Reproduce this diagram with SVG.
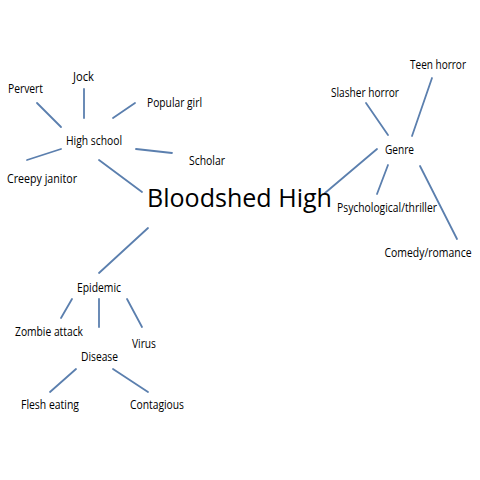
<svg xmlns="http://www.w3.org/2000/svg" width="480" height="480" viewBox="0 0 480 480">
<style>
.bg{fill:#ffffff}
.lbl{font-family:"Open Sans",Lato,"Liberation Sans",sans-serif;font-size:12.5px;fill:#000;text-anchor:middle}
.title{font-family:"Open Sans",Lato,"Liberation Sans",sans-serif;font-size:26px;fill:#000;text-anchor:middle}
.conn line{stroke:#5b7fae;stroke-width:1.8;stroke-linecap:round}
</style>
<rect class="bg" x="0" y="0" width="480" height="480"/>
<g id="connectors" class="conn">
<line x1="37" y1="103" x2="61" y2="127"/>
<line x1="84" y1="89" x2="84" y2="118"/>
<line x1="135" y1="103" x2="113" y2="118"/>
<line x1="136" y1="149" x2="172" y2="153"/>
<line x1="61" y1="149" x2="27" y2="160"/>
<line x1="99" y1="160" x2="142" y2="192"/>
<line x1="366" y1="103" x2="388" y2="135"/>
<line x1="432" y1="78" x2="412" y2="136"/>
<line x1="377" y1="149" x2="325" y2="193"/>
<line x1="388" y1="165" x2="377" y2="194"/>
<line x1="420" y1="166" x2="457" y2="239"/>
<line x1="148" y1="228" x2="99" y2="273"/>
<line x1="72" y1="299" x2="61" y2="318"/>
<line x1="99" y1="299" x2="99" y2="327"/>
<line x1="127" y1="299" x2="142" y2="327"/>
<line x1="76" y1="369" x2="50" y2="392"/>
<line x1="113" y1="369" x2="148" y2="392"/>
</g>
<g id="bloodshed-high"><text class="title" x="239.5" y="207" textLength="185" lengthAdjust="spacingAndGlyphs">Bloodshed High</text></g>
<g id="high-school"><text class="lbl" x="94" y="145" textLength="56" lengthAdjust="spacingAndGlyphs">High school</text></g>
<g id="jock"><text class="lbl" x="83.5" y="81" textLength="21" lengthAdjust="spacingAndGlyphs">Jock</text></g>
<g id="pervert"><text class="lbl" x="25.5" y="93" textLength="35" lengthAdjust="spacingAndGlyphs">Pervert</text></g>
<g id="popular-girl"><text class="lbl" x="174.5" y="107" textLength="55" lengthAdjust="spacingAndGlyphs">Popular girl</text></g>
<g id="scholar"><text class="lbl" x="207" y="165" textLength="36" lengthAdjust="spacingAndGlyphs">Scholar</text></g>
<g id="creepy-janitor"><text class="lbl" x="42" y="183" textLength="70" lengthAdjust="spacingAndGlyphs">Creepy janitor</text></g>
<g id="genre"><text class="lbl" x="399.5" y="154" textLength="29" lengthAdjust="spacingAndGlyphs">Genre</text></g>
<g id="teen-horror"><text class="lbl" x="438" y="69" textLength="56" lengthAdjust="spacingAndGlyphs">Teen horror</text></g>
<g id="slasher-horror"><text class="lbl" x="365" y="97" textLength="68" lengthAdjust="spacingAndGlyphs">Slasher horror</text></g>
<g id="psychological-thriller"><text class="lbl" x="387" y="212" textLength="100" lengthAdjust="spacingAndGlyphs">Psychological/thriller</text></g>
<g id="comedy-romance"><text class="lbl" x="428" y="257" textLength="87" lengthAdjust="spacingAndGlyphs">Comedy/romance</text></g>
<g id="epidemic"><text class="lbl" x="99" y="292" textLength="44" lengthAdjust="spacingAndGlyphs">Epidemic</text></g>
<g id="zombie-attack"><text class="lbl" x="49" y="336" textLength="68" lengthAdjust="spacingAndGlyphs">Zombie attack</text></g>
<g id="virus"><text class="lbl" x="144" y="348" textLength="24" lengthAdjust="spacingAndGlyphs">Virus</text></g>
<g id="disease"><text class="lbl" x="99.5" y="361" textLength="37" lengthAdjust="spacingAndGlyphs">Disease</text></g>
<g id="flesh-eating"><text class="lbl" x="50" y="409" textLength="58" lengthAdjust="spacingAndGlyphs">Flesh eating</text></g>
<g id="contagious"><text class="lbl" x="157" y="409" textLength="54" lengthAdjust="spacingAndGlyphs">Contagious</text></g>
</svg>
